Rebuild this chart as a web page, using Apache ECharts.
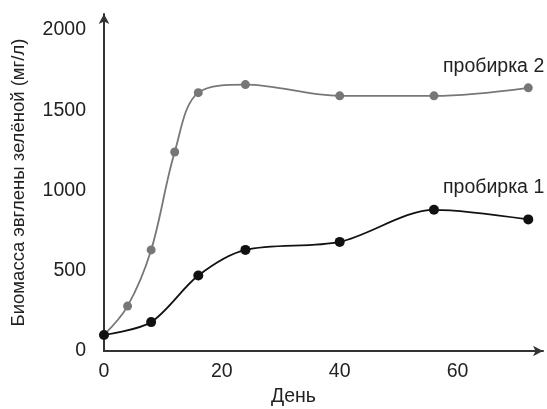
<!DOCTYPE html>
<html><head><meta charset="utf-8">
<script src="https://cdn.jsdelivr.net/npm/echarts@6/dist/echarts.min.js"></script>
<style>html,body{margin:0;padding:0;background:#fff}#c{width:547px;height:409px}</style>
</head><body><div id="c"></div>
<script>
const days1 = [0, 8, 16, 24, 40, 56, 72];
const tube1 = [100, 180, 470, 630, 680, 880, 820];
const days2 = [0, 4, 8, 12, 16, 24, 40, 56, 72];
const tube2 = [100, 280, 630, 1240, 1610, 1660, 1590, 1590, 1640];
const seriesNames = ['пробирка 1', 'пробирка 2'];
const xName = 'День';
const yName = 'Биомасса эвглены зелёной (мг/л)';

const font = 'Liberation Sans, Arial, sans-serif';
const fs = 19.5;
const chart = echarts.init(document.getElementById('c'));
chart.setOption({
  animation: false,
  backgroundColor: '#fff',
  grid: {left: 104, right: 4, top: 14, bottom: 58, outerBoundsMode: 'none', containLabel: false},
  xAxis: {
    type: 'value', min: 0, max: 74.5, interval: 20,
    name: xName, nameLocation: 'middle', nameGap: 32,
    nameTextStyle: {fontFamily: font, fontSize: fs, color: '#222', padding: [0, 60, 0, 0]},
    axisLine: {lineStyle: {color: '#333', width: 2}, symbol: ['none', 'arrow'], symbolSize: [8, 10]},
    axisTick: {show: false}, splitLine: {show: false},
    axisLabel: {fontFamily: font, fontSize: fs, color: '#222', margin: 11,
      formatter: v => (v % 20 === 0 ? String(v) : '')}
  },
  yAxis: {
    type: 'value', min: 0, max: 2100, interval: 500,
    name: yName, nameLocation: 'middle', nameGap: 76, nameRotate: 90,
    nameTextStyle: {fontFamily: font, fontSize: 18.5, color: '#222'},
    axisLine: {show: true, lineStyle: {color: '#333', width: 2}, symbol: ['none', 'arrow'], symbolSize: [8, 10]},
    axisTick: {show: false}, splitLine: {show: false},
    axisLabel: {fontFamily: font, fontSize: fs, color: '#222', margin: 18,
      formatter: v => (v % 500 === 0 ? String(v) : '')}
  },
  graphic: [
    {type: 'text', left: 443, top: 57, style: {text: seriesNames[1], font: fs + 'px ' + font, fill: '#222'}},
    {type: 'text', left: 443, top: 178, style: {text: seriesNames[0], font: fs + 'px ' + font, fill: '#222'}}
  ],
  series: [
    {type: 'line', name: seriesNames[1], data: days2.map((d, i) => [d, tube2[i]]), smooth: 0.35,
     symbol: 'circle', symbolSize: 9, lineStyle: {color: '#777', width: 1.8}, itemStyle: {color: '#777'}, z: 2},
    {type: 'line', name: seriesNames[0], data: days1.map((d, i) => [d, tube1[i]]), smooth: 0.3,
     symbol: 'circle', symbolSize: 10, lineStyle: {color: '#111', width: 1.8}, itemStyle: {color: '#111'}, z: 3}
  ]
});
</script></body></html>
